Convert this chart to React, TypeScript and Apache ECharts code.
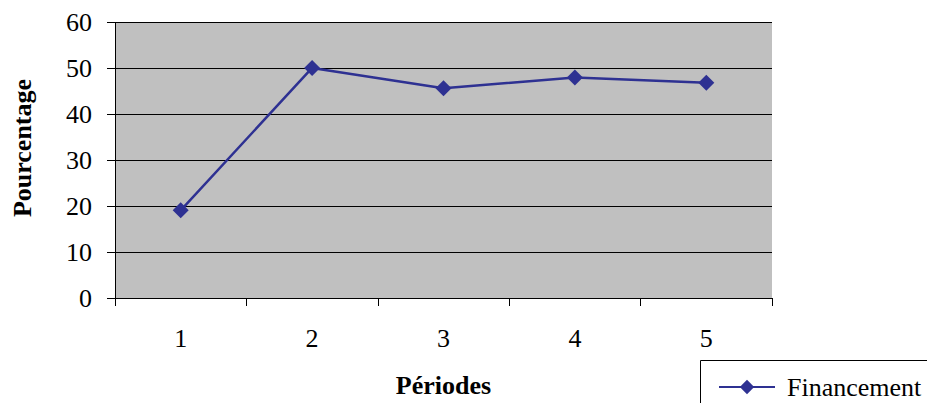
import React, { useEffect, useRef } from "react";
import * as echarts from "echarts";

const categories = ["1", "2", "3", "4", "5"];
const financement = [19.1, 50.1, 45.7, 48.0, 46.9];
const seriesName = "Financement";
const yAxisTitle = "Pourcentage";
const xAxisTitle = "Périodes";

const FONT = "Liberation Serif";
const BLUE = "#2e3192";

export default function App() {
  const ref = useRef<HTMLDivElement>(null);
  useEffect(() => {
    if (!ref.current) return;
    const chart = echarts.init(ref.current, undefined, { renderer: "svg" });
    chart.setOption({
      animation: false,
      backgroundColor: "#ffffff",
      textStyle: { fontFamily: FONT },
      grid: {
        left: 115,
        right: 155,
        top: 22.5,
        bottom: 100,
        show: true,
        backgroundColor: "#c0c0c0",
        borderWidth: 0,
      },
      xAxis: {
        type: "category",
        data: categories,
        boundaryGap: true,
        axisLine: { lineStyle: { color: "#000", width: 1 } },
        axisTick: { show: true, length: 8, lineStyle: { color: "#000" } },
        axisLabel: { color: "#000", fontSize: 26, fontFamily: FONT, margin: 27 },
        name: xAxisTitle,
        nameLocation: "middle",
        nameGap: 74,
        nameTextStyle: { color: "#000", fontSize: 26, fontWeight: "bold", fontFamily: FONT },
      },
      yAxis: {
        type: "value",
        min: 0,
        max: 60,
        interval: 10,
        axisLine: { show: true, lineStyle: { color: "#000", width: 1 } },
        axisTick: { show: true, length: 8, lineStyle: { color: "#000" } },
        axisLabel: { color: "#000", fontSize: 26, fontFamily: FONT, margin: 23 },
        splitLine: { show: true, lineStyle: { color: "#000", width: 1 } },
      },
      legend: {
        show: true,
        left: 718,
        top: 374,
        padding: 0,
        itemWidth: 56,
        itemHeight: 18,
        z: 10,
        textStyle: { color: "#000", fontSize: 26, fontFamily: FONT, padding: [0, 0, 0, 7] },
        data: [seriesName],
      },
      graphic: [
        {
          type: "rect",
          z: 1,
          shape: { x: 700.5, y: 360.5, width: 260, height: 80 },
          style: { fill: "#fff", stroke: "#000", lineWidth: 1 },
        },
        {
          type: "text",
          x: 22,
          y: 148,
          rotation: Math.PI / 2,
          style: {
            text: yAxisTitle,
            fontSize: 26,
            fontWeight: "bold",
            fontFamily: FONT,
            fill: "#000",
            textAlign: "center",
            textVerticalAlign: "middle",
          },
        },
      ],
      series: [
        {
          name: seriesName,
          type: "line",
          data: financement,
          symbol: "diamond",
          symbolSize: 16,
          color: BLUE,
          lineStyle: { color: BLUE, width: 2.5 },
          itemStyle: { color: BLUE },
        },
      ],
    });
    return () => chart.dispose();
  }, []);
  return (
    <div
      ref={ref}
      style={{ position: "fixed", left: 0, top: 0, width: 927, height: 403 }}
    />
  );
}
